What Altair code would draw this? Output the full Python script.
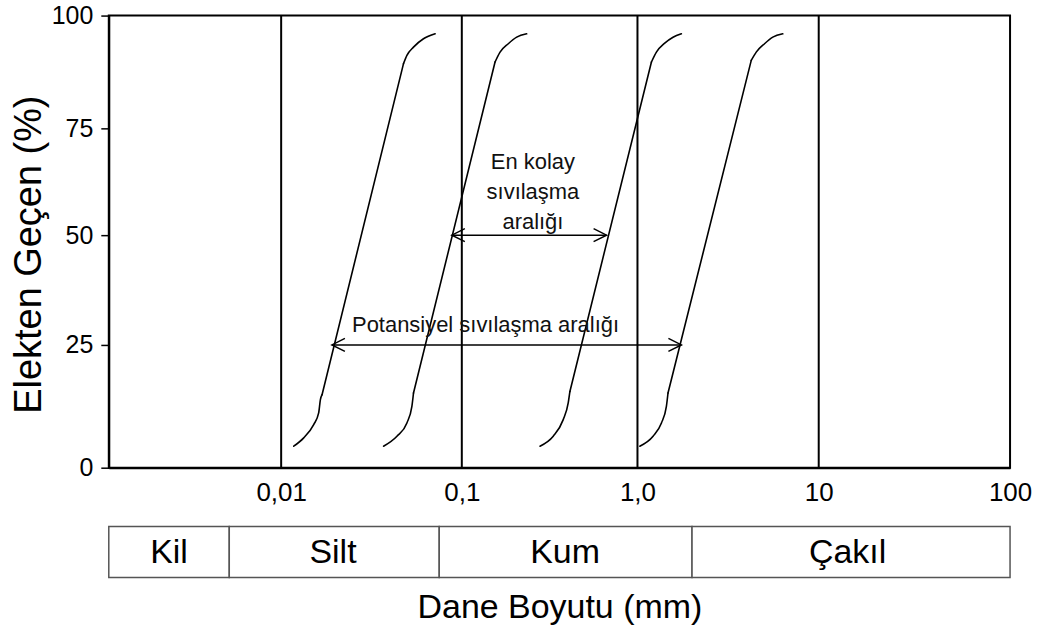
import altair as alt
import pandas as pd

FONT = "Liberation Sans"

# ---- grain size distribution curves (x: grain size mm, y: % passing) ----
c1_x = [0.01174, 0.01333, 0.01514, 0.01613, 0.01649, 0.01684, 0.04756, 0.04967, 0.05402, 0.06135, 0.07118]
c1_y = [4.38, 6.08, 8.78, 11.15, 13.85, 14.86, 89.34, 91.17, 93.0, 94.86, 95.96]
c2_x = [0.03688, 0.04374, 0.04967, 0.05293, 0.05402, 0.1546, 0.1651, 0.1839, 0.2053, 0.2340]
c2_y = [4.38, 6.41, 9.12, 12.49, 15.21, 89.70, 91.90, 93.76, 95.21, 95.96]
c3_x = [0.2786, 0.3315, 0.3779, 0.4034, 0.4124, 1.194, 1.272, 1.414, 1.571, 1.747]
c3_y = [4.38, 6.41, 9.79, 13.18, 15.53, 89.70, 91.90, 93.89, 95.21, 95.96]
c4_x = [1.030, 1.219, 1.356, 1.444, 1.474, 4.244, 4.521, 5.023, 5.580, 6.336]
c4_y = [4.38, 6.41, 9.12, 12.49, 15.21, 90.07, 91.90, 93.76, 95.21, 95.96]
# index of the last point of each lower bend (straight part runs to the next point)
knees = [5, 4, 4, 4]

# vertical reference lines
vlines_x = [0.01, 0.1, 1.0, 10.0]

# range arrows
arrow_y = [50, 25]
arrow_x1 = [0.0881, 0.0191]
arrow_x2 = [0.667, 1.747]

# annotations
ann_text = ["En kolay\nsıvılaşma\naralığı", "Potansiyel sıvılaşma aralığı"]
ann_x = [0.254, 0.1365]
ann_y = [67.1, 29.5]

# soil classes
class_names = ["Kil", "Silt", "Kum", "Çakıl"]
class_bounds = [0.001, 0.005, 0.075, 2.0, 100.0]

# axes
x_tick_values = [0.01, 0.1, 1, 10, 100]
x_tick_labels = ["0,01", "0,1", "1,0", "10", "100"]
y_tick_values = [0, 25, 50, 75, 100]

# ---- data frames ----
rows = []
for name, xs, ys, k in [("A", c1_x, c1_y, knees[0]), ("B", c2_x, c2_y, knees[1]),
                        ("C", c3_x, c3_y, knees[2]), ("D", c4_x, c4_y, knees[3])]:
    for i, (xv, yv) in enumerate(zip(xs, ys)):
        parts = []
        if i <= k:
            parts.append("lo")
        if i in (k, k + 1):
            parts.append("mid")
        if i >= k + 1:
            parts.append("hi")
        for p in parts:
            rows.append({"seg": f"{name}-{p}", "x": xv, "y": yv, "i": i})
curves_df = pd.DataFrame(rows)

vl_df = pd.DataFrame({"x": vlines_x, "y0": [0] * len(vlines_x), "y1": [100] * len(vlines_x)})
arr_df = pd.DataFrame({"y": arrow_y, "x1": arrow_x1, "x2": arrow_x2})
heads = []
for yv, a, b in zip(arrow_y, arrow_x1, arrow_x2):
    heads.append({"y": yv, "x": a, "side": "L"})
    heads.append({"y": yv, "x": b, "side": "R"})
heads_df = pd.DataFrame(heads)
ann_df = pd.DataFrame({"t": ann_text, "x": ann_x, "y": ann_y})
cls_df = pd.DataFrame({
    "name": class_names,
    "x1": class_bounds[:-1],
    "x2": class_bounds[1:],
})
cls_df["xc"] = (cls_df["x1"] * cls_df["x2"]) ** 0.5

# ---- scales & axes ----
x_scale = alt.Scale(type="log", domain=[0.001, 0.01, 0.1, 1, 10, 100],
                    range=[0, 172.7, 353.7, 529.7, 711.3, 903], nice=False)
y_scale = alt.Scale(domain=[0, 25, 50, 75, 100], range=[453, 330, 220, 113, 0],
                    nice=False, zero=False)

label_expr = " : ".join(
    f"datum.value == {v} ? '{l}'" for v, l in zip(x_tick_values, x_tick_labels)
) + " : ''"

x_axis = alt.Axis(values=x_tick_values, labelExpr=label_expr, ticks=False, grid=False,
                  labelFontSize=26, labelPadding=12, labelFlush=False, labelOverlap=False,
                  title="Dane Boyutu (mm)", titleFontSize=34, titleFontWeight="normal",
                  titleY=140, titleBaseline="middle")
y_axis = alt.Axis(values=y_tick_values, grid=False, tickSize=8, tickWidth=1.5,
                  labelFontSize=25, labelPadding=8,
                  title="Elekten Geçen (%)", titleFontSize=38, titleFontWeight="normal",
                  titleX=-79, titleY=239, titleBaseline="middle", titleAlign="center")

def X(field):
    return alt.X(field, type="quantitative", scale=x_scale, axis=x_axis)

def Y(field):
    return alt.Y(field, type="quantitative", scale=y_scale, axis=y_axis)

rules = alt.Chart(vl_df).mark_rule(color="black", strokeWidth=2).encode(
    x=X("x"), y=Y("y0"), y2="y1")

lines = alt.Chart(curves_df).mark_line(color="black", strokeWidth=1.6, interpolate="monotone",
                                       strokeCap="round").encode(
    x=X("x"), y=Y("y"), detail="seg:N", order="i:Q")

shafts = alt.Chart(arr_df).mark_rule(color="black", strokeWidth=1.5).encode(
    x=X("x1"), x2="x2", y=Y("y"))

heads_chart = alt.Chart(heads_df).mark_point(filled=False, stroke="black", strokeWidth=1.5,
                                             size=676, opacity=1).encode(
    x=X("x"), y=Y("y"),
    shape=alt.Shape("side:N", scale=alt.Scale(domain=["L", "R"],
                                               range=["M 1 -0.5 L 0 0 L 1 0.5",
                                                      "M -1 -0.5 L 0 0 L -1 0.5"]),
                    legend=None))

ann = alt.Chart(ann_df).mark_text(fontSize=22, font=FONT, color="#111", lineBreak="\n",
                                  lineHeight=30, align="center", baseline="middle").encode(
    x=X("x"), y=Y("y"), text="t:N")

table = alt.Chart(cls_df).mark_rect(fill="white", stroke="#555", strokeWidth=1.5).encode(
    x=X("x1"), x2="x2", y=alt.value(512), y2=alt.value(563))

table_text = alt.Chart(cls_df).mark_text(fontSize=34, font=FONT, color="black",
                                         align="center", baseline="middle").encode(
    x=X("xc"), y=alt.value(538), text="name:N")

chart = alt.layer(rules, lines, shafts, heads_chart, ann, table, table_text).properties(
    width=903, height=453,
    padding={"left": 10, "top": 3, "right": 5, "bottom": 0},
    background="white",
).configure_view(stroke="black", strokeWidth=2).configure_axis(
    domainColor="black", domainWidth=2, tickColor="black",
    labelColor="black", titleColor="black", labelFont=FONT, titleFont=FONT,
).configure_text(font=FONT)

chart.save("out.html", embed_options={"renderer": "svg", "actions": False})
